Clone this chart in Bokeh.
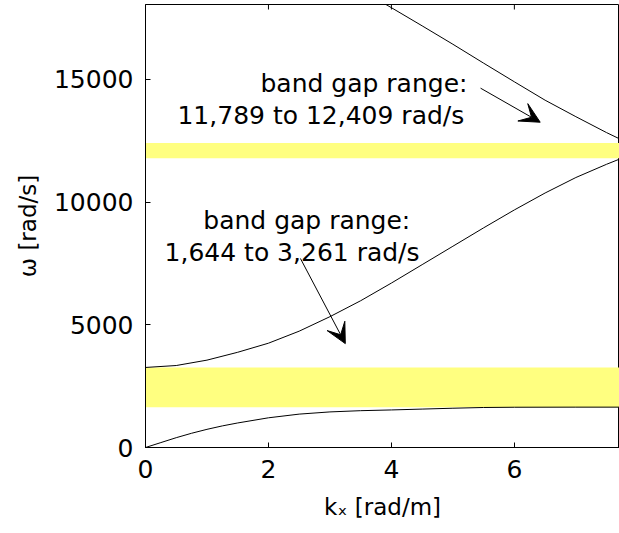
from bokeh.plotting import figure
from bokeh.models import Range1d, FixedTicker, Arrow, VeeHead, ColumnDataSource
from bokeh.embed import file_html
from bokeh.resources import INLINE
from bokeh.core.properties import value

# ---- data ----
kx_band1 = [0, 0.25, 0.5, 0.75, 1.0, 1.25, 1.5, 2.0, 2.5, 3.0, 3.5, 4.0, 4.5, 5.0, 5.5, 6.0, 7.0, 7.85]
w_band1 = [0, 200, 400, 580, 740, 880, 1000, 1210, 1360, 1450, 1500, 1530, 1565, 1600, 1630, 1640, 1644, 1644]

kx_band2 = [0, 0.5, 1.0, 1.5, 2.0, 2.5, 3.0, 3.5, 4.0, 4.5, 5.0, 5.5, 6.0, 6.5, 7.0, 7.5, 7.7, 7.85]
w_band2 = [3261, 3340, 3560, 3880, 4250, 4740, 5330, 5980, 6700, 7450, 8200, 8950, 9680, 10370, 11000, 11540, 11740, 11789]

kx_band3 = [3.5, 4.0, 4.5, 5.0, 5.5, 6.0, 6.5, 7.0, 7.5, 7.85]
w_band3 = [18650, 17920, 17180, 16430, 15660, 14900, 14150, 13480, 12830, 12409]

gap_low = [1644, 11789]
gap_high = [3261, 12409]
k_edge = 7.85

x_ticks = [0, 2, 4, 6]
y_ticks = [0, 5000, 10000, 15000]
y_tick_labels = ["0", "5000", "10000", "15000"]

ann_text = ["band gap range:", "11,789 to 12,409 rad/s", "band gap range:", "1,644 to 3,261 rad/s"]
ann_k = [1.87, 0.52, 0.94, 0.31]
ann_w = [14845, 13539, 9253, 7947]

arrow_k0 = [5.45, 2.52]
arrow_w0 = [14641, 7702]
arrow_k1 = [6.42, 3.25]
arrow_w1 = [13253, 4233]

X_MAX = 7.71
Y_MAX = 18050
FONT = "DejaVu Sans"

p = figure(width=619, height=533, x_range=Range1d(0, X_MAX), y_range=Range1d(0, Y_MAX),
           output_backend="svg", toolbar_location=None,
           min_border_left=145, min_border_right=0, min_border_top=4, min_border_bottom=86)
p.xgrid.grid_line_color = None
p.ygrid.grid_line_color = None
p.outline_line_color = "black"
p.outline_line_width = 1
p.background_fill_color = "white"
p.border_fill_color = "white"

# band gaps
p.quad(left=[0] * len(gap_low), right=[k_edge] * len(gap_low), bottom=gap_low, top=gap_high,
       fill_color="#ffff80", line_color=None)

for kx, w in [(kx_band1, w_band1), (kx_band2, w_band2), (kx_band3, w_band3)]:
    p.line(kx, w, line_color="black", line_width=1)

# mirrored ticks on the top edge
p.ray(x=x_ticks, y=[Y_MAX] * len(x_ticks), length=5, length_units="screen",
      angle=-90, angle_units="deg", line_color="black", line_width=1)

# annotations
src = ColumnDataSource(dict(x=ann_k, y=ann_w, t=ann_text))
p.text(x="x", y="y", text="t", source=src, text_font=value(FONT), text_font_size="25px",
       text_color="black", text_align="left", text_baseline="alphabetic")

for i in range(len(arrow_k0)):
    p.add_layout(Arrow(end=VeeHead(size=20, fill_color="black", line_color="black"),
                       x_start=arrow_k0[i], y_start=arrow_w0[i], x_end=arrow_k1[i], y_end=arrow_w1[i],
                       line_color="black", line_width=1))

# axes
for ax in p.xaxis:
    ax.ticker = FixedTicker(ticks=x_ticks)
for ax in p.yaxis:
    ax.ticker = FixedTicker(ticks=y_ticks)
    ax.major_label_overrides = {t: l for t, l in zip(y_ticks, y_tick_labels)}

for ax in p.xaxis + p.yaxis:
    ax.major_tick_in = 5
    ax.major_tick_out = 0
    ax.minor_tick_line_color = None
    ax.axis_line_color = "black"
    ax.major_tick_line_color = "black"
    ax.major_label_text_font = FONT
    ax.major_label_text_font_size = "25px"
    ax.major_label_text_color = "black"
    ax.axis_label_text_font = FONT
    ax.axis_label_text_font_size = "23px"
    ax.axis_label_text_font_style = "normal"
    ax.axis_label_text_color = "black"

p.xaxis.axis_label = "kₓ [rad/m]"
p.yaxis.axis_label = "ω [rad/s]"
p.xaxis.major_label_standoff = 12
p.yaxis.major_label_standoff = 12
p.xaxis.axis_label_standoff = 13
p.yaxis.axis_label_standoff = 10

open("out.html", "w").write(file_html(p, INLINE))
